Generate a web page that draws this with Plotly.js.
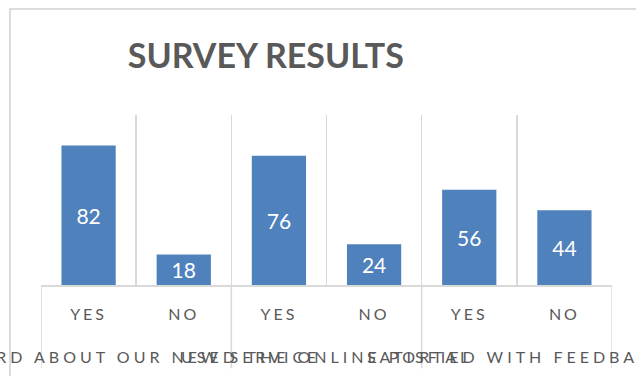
<!DOCTYPE html>
<html>
<head>
<meta charset="utf-8">
<script src="https://cdn.plot.ly/plotly-3.0.1.min.js"></script>
<style>
  html, body { margin: 0; padding: 0; background: #fff; }
  #wrap { position: relative; width: 636px; height: 376px; overflow: hidden; }
  #chart { position: absolute; left: 0; top: 0; width: 636px; height: 376px; }
  #frame { position: absolute; left: 9px; top: 8px; width: 700px; height: 400px;
           border-left: 2px solid #dcdcdc; border-top: 2px solid #dcdcdc; pointer-events: none; }
  .xaxislayer-above text { letter-spacing: 3px; }
  .annotation-text { letter-spacing: 4px; }
</style>
</head>
<body>
<div id="wrap">
  <div id="chart"></div>
  <div id="frame"></div>
</div>
<script>
// Data
const groupNames = ["HEARD ABOUT OUR NEW SERVICE", "USED THE ONLINE PORTAL", "SATISFIED WITH FEEDBACK"];
const groups = [0, 0, 1, 1, 2, 2];            // group index of each bar
const answers = ["YES", "NO", "YES", "NO", "YES", "NO"];
const values = [82, 18, 76, 24, 56, 44];

const gray = "#595959";
const lineCol = "#d9d9d9";
const font = "Lato, sans-serif";

const xs = answers.map((_, i) => i);

// category boundaries (between every bar) and group boundaries
const catBounds = [];
for (let i = 0; i <= answers.length; i++) catBounds.push(i - 0.5);
const groupBounds = [-0.5];
for (let i = 1; i < groups.length; i++) if (groups[i] !== groups[i - 1]) groupBounds.push(i - 0.5);
groupBounds.push(groups.length - 0.5);

const trace = {
  type: "bar",
  x: xs,
  y: values,
  marker: { color: "#4F81BD" },
  texttemplate: "%{y}",
  textposition: "inside",
  insidetextanchor: "middle",
  textangle: 0,
  constraintext: "none",
  textfont: { family: font, size: 21, color: "#ffffff" },
  hoverinfo: "none",
  cliponaxis: false
};

const shapes = groupBounds.map(b => ({
  type: "line", xref: "x", yref: "paper",
  x0: b, x1: b, y0: 0, y1: -0.49,
  line: { color: lineCol, width: 1.5 }
}));

const annotations = groupNames.map((name, g) => {
  const idx = groups.map((v, i) => v === g ? i : -1).filter(i => i >= 0);
  const center = (idx[0] + idx[idx.length - 1]) / 2;
  return {
    text: name, xref: "x", yref: "paper", x: center, y: -0.418,
    xanchor: "center", yanchor: "middle", showarrow: false,
    font: { family: font, size: 16, color: gray }
  };
});

const layout = {
  width: 636, height: 376,
  margin: { l: 41, r: 24, t: 115, b: 91, pad: 0 },
  paper_bgcolor: "#ffffff",
  plot_bgcolor: "#ffffff",
  bargap: 0.43,
  showlegend: false,
  title: {
    text: "SURVEY RESULTS",
    font: { family: font, size: 34, color: gray, weight: 700 },
    xref: "container", x: 0.418, xanchor: "center",
    yref: "container", y: 0.851, yanchor: "middle"
  },
  xaxis: {
    range: [-0.5, answers.length - 0.5],
    tickvals: xs, ticktext: answers,
    showgrid: false, zeroline: false,
    showline: true, linecolor: lineCol, linewidth: 1.5,
    ticks: "", ticklabelstandoff: 14,
    tickfont: { family: font, size: 16, color: gray },
    minor: { tickvals: catBounds, showgrid: true, gridcolor: lineCol, gridwidth: 1.5, ticks: "" }
  },
  yaxis: {
    range: [0, 100],
    visible: false,
    showgrid: false, zeroline: false
  },
  shapes: shapes,
  annotations: annotations
};

Plotly.newPlot("chart", [trace], layout, { staticPlot: true, displayModeBar: false });
</script>
</body>
</html>
